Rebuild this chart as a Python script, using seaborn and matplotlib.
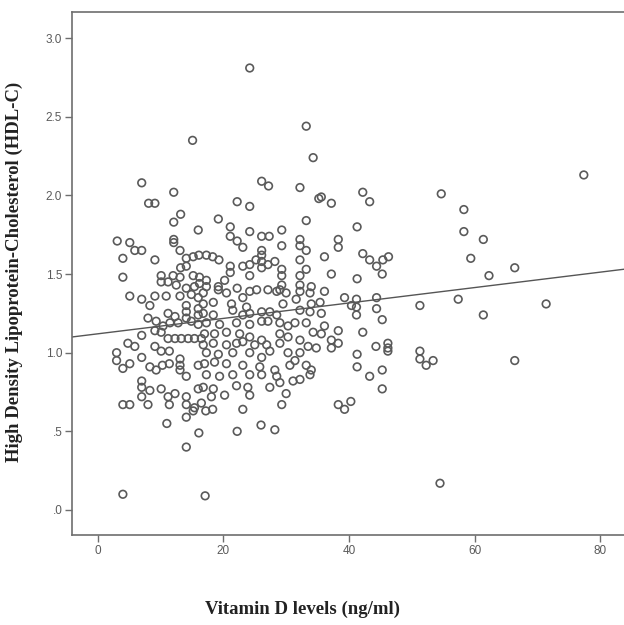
import matplotlib
matplotlib.use("Agg")
import matplotlib.pyplot as plt
import pandas as pd
import seaborn as sns

# Vitamin D (ng/ml) and HDL-C (mmol/l) per subject, grouped by region of the cloud
vitd_outer = [24.2, 33.2, 15.1, 34.3, 77.4, 54.7, 58.3, 58.3, 61.4, 59.4, 66.4, 62.3,
              57.4, 61.4, 71.4, 66.4, 54.5]
hdl_outer = [2.81, 2.44, 2.35, 2.24, 2.13, 2.01, 1.91, 1.77, 1.72, 1.60, 1.54, 1.49,
             1.34, 1.24, 1.31, 0.95, 0.17]

vitd_mid_low = [36.1, 39.3, 41.2, 44.4, 41.2, 40.4, 35.4, 44.4, 51.3, 41.2,
                45.3, 35.6, 36.1, 38.3, 42.2, 35.6, 37.2, 38.3, 37.2, 44.3,
                46.2, 46.2, 46.2, 41.3, 51.3, 51.3, 52.3, 53.4, 41.3, 43.3,
                45.3, 45.3, 38.3, 39.3, 40.3]
hdl_mid_low = [1.39, 1.35, 1.34, 1.35, 1.29, 1.30, 1.32, 1.28, 1.30, 1.24,
               1.21, 1.25, 1.17, 1.14, 1.13, 1.12, 1.08, 1.06, 1.03, 1.04,
               1.06, 1.03, 1.01, 0.99, 1.01, 0.96, 0.92, 0.95, 0.91, 0.85,
               0.89, 0.77, 0.67, 0.64, 0.69]

vitd_mid_high = [35.6, 37.2, 42.2, 43.3, 41.3, 38.3, 38.3, 36.1, 42.2, 43.3,
                 45.4, 46.3, 44.4, 45.3, 37.2, 41.3]
hdl_mid_high = [1.99, 1.95, 2.02, 1.96, 1.80, 1.72, 1.67, 1.61, 1.63, 1.59,
                1.59, 1.61, 1.55, 1.50, 1.50, 1.47]

vitd_low_high = [7.0, 12.1, 8.1, 9.1, 13.2, 12.1, 16.0, 12.1, 12.1, 3.1,
                 5.1, 5.9, 7.0, 13.1, 4.0, 9.1, 14.1, 15.2, 16.1, 13.2,
                 14.1, 4.0, 10.1, 12.0, 13.1, 15.2, 16.2, 10.1, 11.2, 12.5,
                 14.1, 15.4]
hdl_low_high = [2.08, 2.02, 1.95, 1.95, 1.88, 1.83, 1.78, 1.72, 1.70, 1.71,
                1.70, 1.65, 1.65, 1.65, 1.60, 1.59, 1.60, 1.61, 1.62, 1.54,
                1.55, 1.48, 1.49, 1.49, 1.48, 1.49, 1.48, 1.45, 1.45, 1.43,
                1.41, 1.42]

vitd_low_low = [5.1, 7.0, 9.1, 10.9, 13.1, 14.9, 16.0, 8.3, 11.2, 12.3,
                14.1, 14.1, 14.1, 16.0, 16.0, 8.0, 9.3, 10.4, 11.5, 12.8,
                14.9, 16.0, 9.1, 10.1, 11.2, 12.3, 13.3, 14.4, 15.4, 16.5,
                7.0, 4.8, 5.9, 9.1, 10.1, 11.4, 3.0, 3.0, 5.1, 4.0,
                7.0, 8.3, 9.3, 10.3, 11.4, 13.1, 13.1, 13.1, 14.1, 16.0,
                7.0, 7.0, 7.0, 8.3, 10.1, 11.2, 12.3, 14.1, 16.0, 4.0,
                5.1, 8.0, 11.4, 14.1, 15.4, 16.5]
hdl_low_low = [1.36, 1.34, 1.36, 1.36, 1.36, 1.37, 1.35, 1.30, 1.25, 1.23,
               1.30, 1.26, 1.22, 1.28, 1.24, 1.22, 1.20, 1.17, 1.19, 1.19,
               1.20, 1.18, 1.14, 1.13, 1.09, 1.09, 1.09, 1.09, 1.09, 1.09,
               1.11, 1.06, 1.04, 1.04, 1.01, 1.01, 1.00, 0.95, 0.93, 0.90,
               0.97, 0.91, 0.89, 0.92, 0.93, 0.96, 0.92, 0.89, 0.85, 0.92,
               0.82, 0.78, 0.72, 0.76, 0.77, 0.72, 0.74, 0.72, 0.77, 0.67,
               0.67, 0.67, 0.67, 0.67, 0.65, 0.68]

vitd_tail = [11.0, 14.1, 15.2, 17.2, 18.3, 23.1, 16.1, 22.2, 26.0, 14.1, 4.0, 17.1, 29.3, 28.2]
hdl_tail = [0.55, 0.59, 0.63, 0.63, 0.64, 0.64, 0.49, 0.50, 0.54, 0.40, 0.10, 0.09, 0.67, 0.51]

vitd_core_high = [26.1, 27.2, 32.2, 35.2, 22.2, 24.2, 19.2, 33.2, 21.1, 24.2,
                  29.3, 21.1, 26.1, 27.3, 22.2, 23.1, 29.3, 32.2, 32.2, 33.2,
                  26.1, 26.1, 17.3, 18.3, 19.3, 25.2, 26.1, 27.1, 26.1, 28.2,
                  21.1, 21.1, 23.1, 24.2, 24.2, 29.3, 29.3, 32.2, 32.2, 33.2,
                  17.3, 20.2, 19.2, 19.2, 16.2, 17.3, 22.2, 25.3, 27.1, 29.3,
                  32.2, 34.0, 29.0]
hdl_core_high = [2.09, 2.06, 2.05, 1.98, 1.96, 1.93, 1.85, 1.84, 1.80, 1.77,
                 1.78, 1.74, 1.74, 1.74, 1.71, 1.67, 1.68, 1.72, 1.68, 1.65,
                 1.65, 1.62, 1.62, 1.61, 1.59, 1.59, 1.58, 1.56, 1.54, 1.58,
                 1.55, 1.51, 1.55, 1.56, 1.49, 1.53, 1.49, 1.59, 1.49, 1.53,
                 1.46, 1.46, 1.42, 1.40, 1.44, 1.42, 1.41, 1.40, 1.40, 1.43,
                 1.43, 1.42, 1.40]

vitd_core_low = [16.8, 20.5, 24.2, 28.5, 30.0, 32.2, 33.8,
                 16.8, 18.4, 21.3, 23.1, 23.7, 29.5, 31.6, 34.0,
                 16.8, 18.4, 21.5, 23.1, 24.2, 26.1, 27.4, 28.5, 32.2, 33.8,
                 17.3, 19.4, 22.1, 24.2, 26.1, 27.1, 29.0, 30.3, 31.4, 33.2,
                 17.0, 18.6, 20.5, 22.6, 24.2, 26.1, 29.0, 30.3, 34.3,
                 16.8, 18.4, 20.5, 22.1, 23.1, 25.0, 26.9, 29.0, 32.2, 33.5, 34.8,
                 17.3, 19.2, 21.5, 24.2, 26.1, 27.4, 30.3, 31.4, 32.2,
                 17.0, 18.6, 20.5, 23.1, 25.8, 28.2, 30.6, 33.2, 34.0,
                 17.3, 19.4, 21.5, 24.2, 26.1, 28.5, 32.2, 33.8,
                 16.8, 18.4, 22.1, 23.9, 27.4, 29.0, 31.1,
                 18.1, 20.2, 24.2, 30.0]
hdl_core_low = [1.38, 1.38, 1.39, 1.39, 1.38, 1.39, 1.38,
                1.31, 1.32, 1.31, 1.35, 1.29, 1.31, 1.34, 1.31,
                1.25, 1.24, 1.27, 1.24, 1.25, 1.26, 1.26, 1.24, 1.27, 1.26,
                1.19, 1.18, 1.19, 1.18, 1.20, 1.20, 1.19, 1.17, 1.19, 1.19,
                1.12, 1.12, 1.13, 1.12, 1.10, 1.08, 1.12, 1.10, 1.13,
                1.05, 1.06, 1.05, 1.06, 1.07, 1.05, 1.05, 1.06, 1.08, 1.04, 1.03,
                1.00, 0.99, 1.00, 1.00, 0.97, 1.01, 1.00, 0.95, 1.00,
                0.93, 0.94, 0.93, 0.92, 0.91, 0.89, 0.92, 0.92, 0.89,
                0.86, 0.85, 0.86, 0.86, 0.86, 0.85, 0.83, 0.86,
                0.78, 0.77, 0.79, 0.78, 0.78, 0.81, 0.82,
                0.72, 0.73, 0.73, 0.74]

# Linear fit line (HDL-C on vitamin D)
fit_intercept = 1.12
fit_slope = 0.0049

x_ticks = [0, 20, 40, 60, 80]
y_ticks = [0.0, 0.5, 1.0, 1.5, 2.0, 2.5, 3.0]
y_tick_labels = [".0", ".5", "1.0", "1.5", "2.0", "2.5", "3.0"]

vitd = (vitd_outer + vitd_mid_low + vitd_mid_high + vitd_low_high + vitd_low_low
        + vitd_tail + vitd_core_high + vitd_core_low)
hdl = (hdl_outer + hdl_mid_low + hdl_mid_high + hdl_low_high + hdl_low_low
       + hdl_tail + hdl_core_high + hdl_core_low)
df = pd.DataFrame({"vitd": vitd, "hdl": hdl})

sns.set_theme(style="white")
plt.rcParams["font.family"] = ["Liberation Sans", "DejaVu Sans"]

fig = plt.figure(figsize=(6.24, 6.25), dpi=100)
ax = fig.add_axes([72 / 624, 90 / 625, 552 / 624, 523 / 625])

sns.scatterplot(data=df, x="vitd", y="hdl", ax=ax, s=30, marker="o", legend=False)
pts = ax.collections[0]
pts.set_facecolor("none")
pts.set_edgecolor("#5a5a5a")
pts.set_linewidth(1.2)

ax.axline((0, fit_intercept), slope=fit_slope, color="#555555", lw=1.0)

ax.set_xlim(-4.1, 83.8)
ax.set_ylim(-0.159, 3.166)
ax.set_xticks(x_ticks)
ax.set_xticklabels([str(t) for t in x_ticks])
ax.set_yticks(y_ticks)
ax.set_yticklabels(y_tick_labels)

for side in ["left", "bottom", "top"]:
    ax.spines[side].set_color("#6e6e6e")
    ax.spines[side].set_linewidth(1.2)
ax.spines["right"].set_visible(False)

ax.tick_params(axis="both", which="major", direction="out", length=5, width=1,
               color="#6e6e6e", labelsize=8.5, labelcolor="#5a5a5a", pad=2,
               bottom=True, left=True, top=False, right=False)

label_font = dict(family=["Liberation Serif", "DejaVu Serif"], weight="bold", size=13.5, color="#222222")
ax.set_xlabel("Vitamin D levels (ng/ml)", fontdict=label_font)
ax.set_ylabel("High Density Lipoprotein-Cholesterol (HDL-C)", fontdict=label_font)
ax.xaxis.set_label_coords(0.417, -0.125)
ax.yaxis.set_label_coords(-0.088, 0.503)

fig.savefig("out.png", dpi=100)
